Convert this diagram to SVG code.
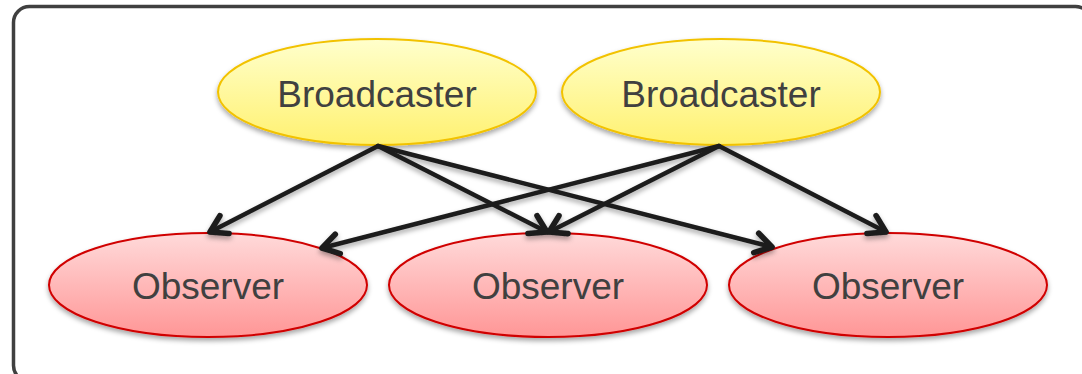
<svg xmlns="http://www.w3.org/2000/svg" width="1082" height="374" viewBox="0 0 1082 374">
  <defs>
    <linearGradient id="gY" x1="0" y1="0" x2="0" y2="1">
      <stop offset="0" stop-color="#FFFFCC"/>
      <stop offset="1" stop-color="#FFF170"/>
    </linearGradient>
    <linearGradient id="gR" x1="0" y1="0" x2="0" y2="1">
      <stop offset="0" stop-color="#FFDADA"/>
      <stop offset="1" stop-color="#FF9696"/>
    </linearGradient>
    <filter id="sh" x="-10%" y="-20%" width="120%" height="150%">
      <feDropShadow dx="0" dy="3" stdDeviation="2.5" flood-color="#000" flood-opacity="0.35"/>
    </filter>
    <marker id="arr" markerUnits="userSpaceOnUse" markerWidth="30" markerHeight="30" viewBox="-16 -12 20 24" refX="0" refY="0" orient="auto">
      <path d="M-13,-8 L0,0 L-13,8" fill="none" stroke="#1c1c1c" stroke-width="4.5" stroke-linecap="round" stroke-linejoin="round"/>
    </marker>
    <style>
      .bc { fill: url(#gY); stroke: #F2C200; stroke-width: 2; filter: url(#sh); }
      .ob { fill: url(#gR); stroke: #D00000; stroke-width: 2; filter: url(#sh); }
      .lbl { font-family: "Liberation Sans", Arial, sans-serif; font-size: 37px; fill: #404040; text-anchor: middle; }
      .cn { fill: none; stroke: #1c1c1c; stroke-width: 4.5; stroke-linecap: round; marker-end: url(#arr); }
    </style>
  </defs>
  <rect x="13.5" y="6.5" width="1078" height="375" rx="16" ry="16" fill="#FFFFFF" stroke="#404040" stroke-width="3.5"/>
  <g id="broadcaster1">
    <ellipse class="bc" cx="377" cy="92" rx="159" ry="53"/>
    <text class="lbl" x="377" y="107">Broadcaster</text>
  </g>
  <g id="broadcaster2">
    <ellipse class="bc" cx="721" cy="92" rx="159" ry="53"/>
    <text class="lbl" x="721" y="107">Broadcaster</text>
  </g>
  <g id="observer1">
    <ellipse class="ob" cx="208" cy="285" rx="159" ry="52"/>
    <text class="lbl" x="208" y="299">Observer</text>
  </g>
  <g id="observer2">
    <ellipse class="ob" cx="548" cy="285" rx="159" ry="52"/>
    <text class="lbl" x="548" y="299">Observer</text>
  </g>
  <g id="observer3">
    <ellipse class="ob" cx="888" cy="285" rx="159" ry="52"/>
    <text class="lbl" x="888" y="299">Observer</text>
  </g>
  <g id="connectors" filter="url(#sh)">
    <line class="cn" x1="378" y1="146" x2="210" y2="232"/>
    <line class="cn" x1="378" y1="146" x2="547" y2="232"/>
    <line class="cn" x1="378" y1="146" x2="772" y2="247"/>
    <line class="cn" x1="719" y1="146" x2="322" y2="248"/>
    <line class="cn" x1="719" y1="146" x2="549" y2="232"/>
    <line class="cn" x1="719" y1="146" x2="886" y2="232"/>
  </g>
</svg>
